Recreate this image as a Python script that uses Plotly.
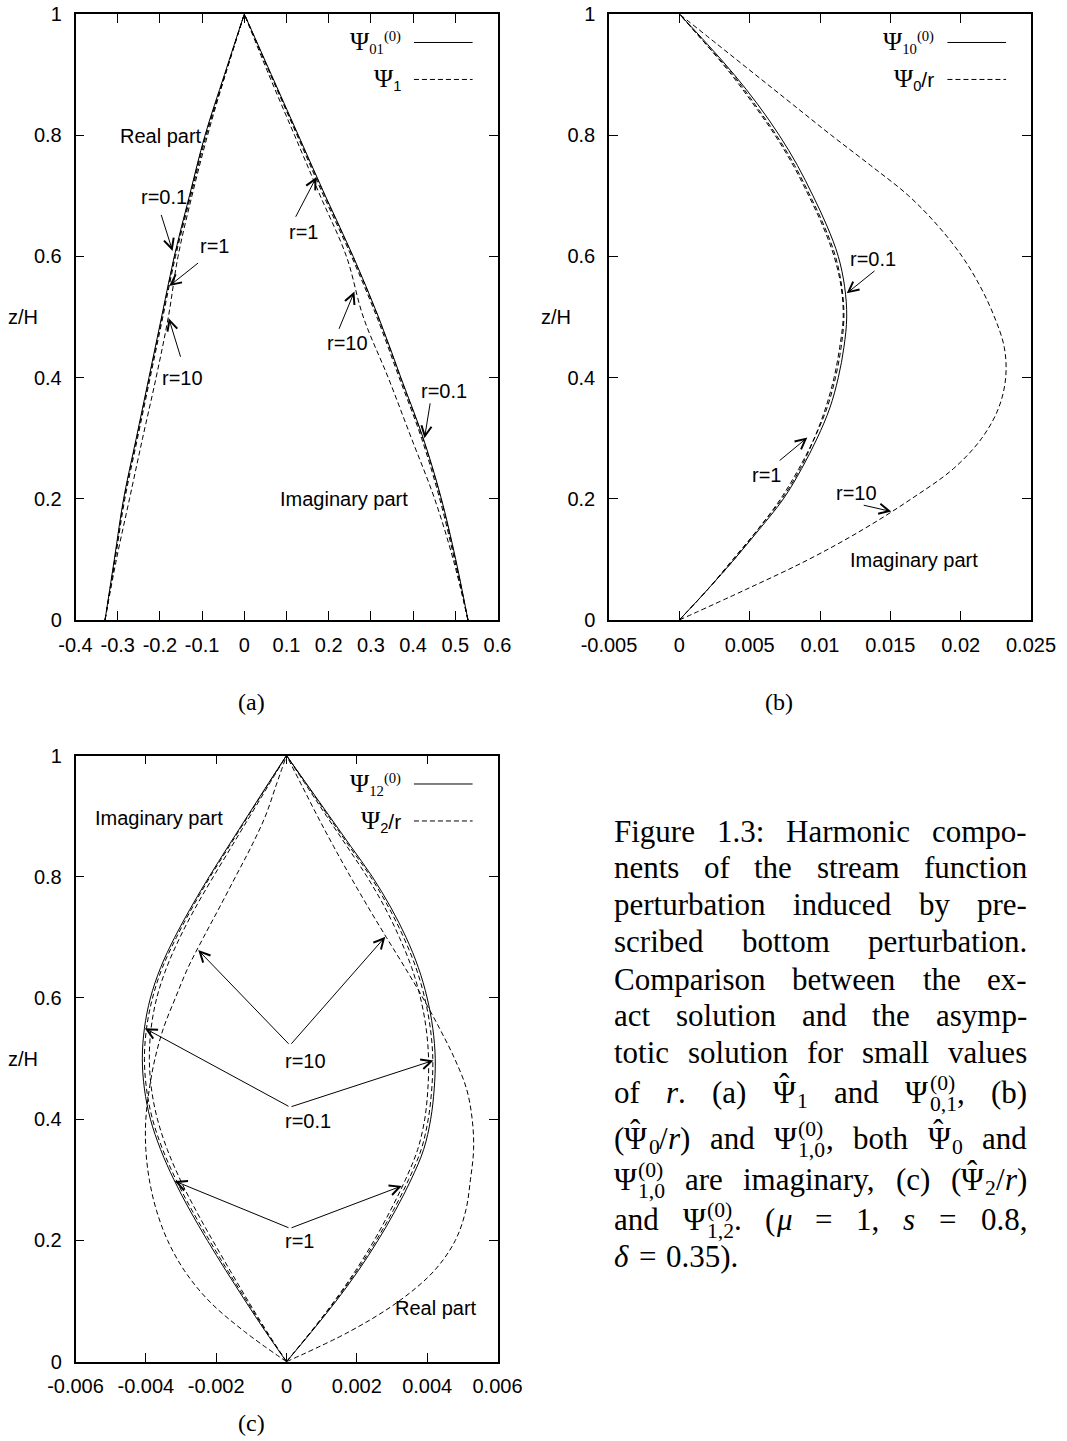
import plotly.graph_objects as go

FIG_W, FIG_H = 1067, 1441

# ---------------- panel (a): Psi_1 (dashed) and Psi_01^(0) (solid) ----------------
z_a = [0.0, 0.1, 0.2, 0.3, 0.4, 0.5, 0.6, 0.7, 0.8, 0.9, 1.0]
a_re_asym = [-0.330, -0.308, -0.286, -0.256, -0.226, -0.196, -0.166, -0.130, -0.093, -0.047, 0.0]
a_re_r01 = [-0.330, -0.307, -0.285, -0.255, -0.225, -0.195, -0.165, -0.129, -0.092, -0.046, 0.0]
a_re_r1 = [-0.330, -0.306, -0.283, -0.253, -0.223, -0.193, -0.163, -0.127, -0.090, -0.045, 0.0]
a_re_r10 = [-0.330, -0.303, -0.272, -0.241, -0.209, -0.180, -0.157, -0.124, -0.087, -0.045, 0.0]
a_im_asym = [0.530, 0.501, 0.467, 0.424, 0.371, 0.318, 0.258, 0.192, 0.128, 0.064, 0.0]
a_im_r01 = [0.530, 0.500, 0.466, 0.423, 0.370, 0.317, 0.257, 0.191, 0.127, 0.063, 0.0]
a_im_r1 = [0.530, 0.498, 0.463, 0.420, 0.367, 0.314, 0.254, 0.188, 0.125, 0.062, 0.0]
a_im_r10 = [0.530, 0.495, 0.451, 0.396, 0.341, 0.282, 0.242, 0.180, 0.119, 0.058, 0.0]

# ---------------- panel (b): Psi_0/r (dashed) and Psi_10^(0) (solid), imaginary ----------------
z_b = [0.0, 0.05, 0.1, 0.15, 0.2, 0.25, 0.3, 0.35, 0.4, 0.45, 0.5,
       0.55, 0.6, 0.65, 0.7, 0.75, 0.8, 0.85, 0.9, 0.95, 1.0]
b_asym = [0.0, 0.0020, 0.0039, 0.0057, 0.0074, 0.0087, 0.0098, 0.0107, 0.0113, 0.0117, 0.0119,
          0.01175, 0.0113, 0.0105, 0.0095, 0.0084, 0.0071, 0.0056, 0.0039, 0.0020, 0.0]
b_r01 = [0.0, 0.0020, 0.0038, 0.0056, 0.0072, 0.0085, 0.0096, 0.0105, 0.0111, 0.0115, 0.0117,
         0.01155, 0.0111, 0.0103, 0.0093, 0.0082, 0.0069, 0.0054, 0.0038, 0.0019, 0.0]
b_r1 = [0.0, 0.0020, 0.0039, 0.0056, 0.0073, 0.0086, 0.0096, 0.0104, 0.0110, 0.0114, 0.01165,
        0.0115, 0.0110, 0.0102, 0.0092, 0.0081, 0.0068, 0.0053, 0.0037, 0.0019, 0.0]
b_r10 = [0.0, 0.0047, 0.0092, 0.0131, 0.0165, 0.0195, 0.0215, 0.0227, 0.0232, 0.0231, 0.0224,
         0.0214, 0.0201, 0.0184, 0.0163, 0.0136, 0.0108, 0.0081, 0.0054, 0.0027, 0.0]

# ---------------- panel (c): Psi_2/r (dashed) and Psi_12^(0) (solid) ----------------
z_c = [0.0, 0.05, 0.1, 0.15, 0.2, 0.25, 0.3, 0.35, 0.4, 0.45, 0.5,
       0.55, 0.6, 0.65, 0.7, 0.75, 0.8, 0.85, 0.9, 0.95, 1.0]
c_im_asym = [0.0, -0.00060, -0.00117, -0.00172, -0.00225, -0.00275, -0.00320, -0.00358, -0.00387, -0.00404, -0.00410,
             -0.00404, -0.00387, -0.00358, -0.00318, -0.00271, -0.00220, -0.00166, -0.00111, -0.00056, 0.0]
c_im_r01 = [0.0, -0.00058, -0.00113, -0.00167, -0.00219, -0.00269, -0.00314, -0.00352, -0.00381, -0.00398, -0.00404,
            -0.00398, -0.00381, -0.00353, -0.00313, -0.00267, -0.00217, -0.00163, -0.00109, -0.00055, 0.0]
c_im_r1 = [0.0, -0.00056, -0.00109, -0.00160, -0.00210, -0.00258, -0.00302, -0.00339, -0.00367, -0.00384, -0.00390,
           -0.00385, -0.00369, -0.00341, -0.00303, -0.00258, -0.00208, -0.00156, -0.00104, -0.00052, 0.0]
c_im_r10 = [0.0, -0.00120, -0.00220, -0.00290, -0.00338, -0.00370, -0.00390, -0.00400, -0.00400, -0.00390, -0.00374,
            -0.00350, -0.00316, -0.00280, -0.00236, -0.00190, -0.00145, -0.00100, -0.00060, -0.00030, 0.0]
c_re_asym = [0.0, 0.00072, 0.00141, 0.00204, 0.00260, 0.00310, 0.00354, 0.00390, 0.00410, 0.00420, 0.00423,
             0.00416, 0.00400, 0.00375, 0.00340, 0.00296, 0.00244, 0.00183, 0.00122, 0.00061, 0.0]
c_re_r01 = [0.0, 0.00071, 0.00138, 0.00200, 0.00255, 0.00304, 0.00347, 0.00383, 0.00403, 0.00413, 0.00416,
            0.00409, 0.00393, 0.00368, 0.00333, 0.00290, 0.00239, 0.00179, 0.00119, 0.00060, 0.0]
c_re_r1 = [0.0, 0.00070, 0.00136, 0.00196, 0.00249, 0.00296, 0.00338, 0.00373, 0.00393, 0.00402, 0.00404,
           0.00397, 0.00381, 0.00356, 0.00321, 0.00279, 0.00229, 0.00172, 0.00114, 0.00057, 0.0]
c_re_r10 = [0.0, 0.00180, 0.00320, 0.00420, 0.00480, 0.00510, 0.00523, 0.00532, 0.00528, 0.00512, 0.00478,
            0.00435, 0.00388, 0.00337, 0.00284, 0.00232, 0.00182, 0.00134, 0.00088, 0.00044, 0.0]

# ---------------- ticks ----------------
a_xticks = [-0.4, -0.3, -0.2, -0.1, 0.0, 0.1, 0.2, 0.3, 0.4, 0.5, 0.6]
a_xlabels = ["-0.4", "-0.3", "-0.2", "-0.1", "0", "0.1", "0.2", "0.3", "0.4", "0.5", "0.6"]
b_xticks = [-0.005, 0.0, 0.005, 0.01, 0.015, 0.02, 0.025]
b_xlabels = ["-0.005", "0", "0.005", "0.01", "0.015", "0.02", "0.025"]
c_xticks = [-0.006, -0.004, -0.002, 0.0, 0.002, 0.004, 0.006]
c_xlabels = ["-0.006", "-0.004", "-0.002", "0", "0.002", "0.004", "0.006"]
z_ticks = [0.0, 0.2, 0.4, 0.6, 0.8, 1.0]
z_labels = ["0", "0.2", "0.4", "0.6", "0.8", "1"]

# ---------------- geometry (pixels) ----------------
PANELS = {
    "": (75.5, 497.5, 14.0, 620.0),
    "2": (609.0, 1031.0, 14.0, 620.0),
    "3": (75.5, 497.5, 755.5, 1361.7),
}

SANS = "Liberation Sans"
SERIF = "Liberation Serif"
DASH = "5px,3px"

fig = go.Figure()


def curve(x, z, axis, dashed):
    fig.add_trace(go.Scatter(
        x=x, y=z, mode="lines",
        line=dict(color="black", width=1, dash=DASH if dashed else "solid",
                  shape="spline", smoothing=1.0),
        xaxis="x" + axis, yaxis="y" + axis,
        showlegend=False, hoverinfo="skip"))


for xs in (a_re_asym, a_im_asym):
    curve(xs, z_a, "", False)
for xs in (a_re_r01, a_re_r1, a_re_r10, a_im_r01, a_im_r1, a_im_r10):
    curve(xs, z_a, "", True)

curve(b_asym, z_b, "2", False)
for xs in (b_r01, b_r1, b_r10):
    curve(xs, z_b, "2", True)

for xs in (c_im_asym, c_re_asym):
    curve(xs, z_c, "3", False)
for xs in (c_im_r01, c_im_r1, c_im_r10, c_re_r01, c_re_r1, c_re_r10):
    curve(xs, z_c, "3", True)


def axis_pair(suffix, xrange_, xticks, xlabels):
    l, r, t, b = PANELS[suffix]
    common = dict(ticks="inside", ticklen=9, tickwidth=1.3, tickcolor="black",
                  showline=True, linecolor="black", linewidth=1.5, mirror="ticks",
                  showgrid=False, zeroline=False, automargin=False,
                  tickfont=dict(family=SANS, size=20, color="black"))
    xa = dict(common, domain=[l / FIG_W, r / FIG_W], range=xrange_,
              tickmode="array", tickvals=xticks, ticktext=xlabels,
              anchor="y" + suffix, ticklabelstandoff=6)
    ya = dict(common, domain=[1 - b / FIG_H, 1 - t / FIG_H], range=[0, 1],
              tickmode="array", tickvals=z_ticks, ticktext=z_labels,
              anchor="x" + suffix, ticklabelstandoff=8)
    return xa, ya


xa1, ya1 = axis_pair("", [-0.4, 0.6], a_xticks, a_xlabels)
xa2, ya2 = axis_pair("2", [-0.005, 0.025], b_xticks, b_xlabels)
xa3, ya3 = axis_pair("3", [-0.006, 0.006], c_xticks, c_xlabels)

annotations = []
shapes = []


def label(axis, x, z, text, size=20):
    annotations.append(dict(x=x, y=z, xref="x" + axis, yref="y" + axis, text=text,
                            showarrow=False, xanchor="left", yanchor="middle",
                            font=dict(family=SANS, size=size, color="black")))


def arrow(axis, tail, head):
    annotations.append(dict(x=head[0], y=head[1], ax=tail[0], ay=tail[1],
                            xref="x" + axis, yref="y" + axis,
                            axref="x" + axis, ayref="y" + axis,
                            text="", showarrow=True, arrowhead=5, arrowsize=2.0,
                            arrowwidth=1, arrowcolor="black", standoff=0, startstandoff=0))


PSI = '<span style="font-family:Liberation Serif;font-size:26px">Ψ</span>'
SERIF_SPAN = '<span style="font-family:Liberation Serif">%s</span>'


def legend(axis, solid_text, dashed_text):
    xr, yr = "x%s domain" % axis, "y%s domain" % axis
    for yy, txt, dash in ((0.953, solid_text, "solid"), (0.892, dashed_text, DASH)):
        annotations.append(dict(x=0.775, y=yy, xref=xr, yref=yr, text=txt,
                                showarrow=False, xanchor="right", yanchor="middle",
                                font=dict(family=SANS, size=21, color="black")))
        shapes.append(dict(type="line", xref=xr, yref=yr, x0=0.802, x1=0.941,
                           y0=yy, y1=yy, line=dict(color="black", width=1, dash=dash)))


# panel (a)
legend("", PSI + SERIF_SPAN % "<sub>01</sub><sup>(0)</sup>", PSI + "<sub>1</sub>")
label("", -0.300, 0.799, "Real part")
label("", 0.080, 0.200, "Imaginary part")
label("", -0.250, 0.698, "r=0.1")
label("", -0.110, 0.617, "r=1")
label("", -0.200, 0.399, "r=10")
label("", 0.101, 0.640, "r=1")
label("", 0.191, 0.457, "r=10")
label("", 0.413, 0.378, "r=0.1")
arrow("", (-0.198, 0.671), (-0.170, 0.609))
arrow("", (-0.106, 0.591), (-0.178, 0.551))
arrow("", (-0.150, 0.432), (-0.179, 0.498))
arrow("", (0.120, 0.663), (0.171, 0.731))
arrow("", (0.223, 0.478), (0.261, 0.542))
arrow("", (0.441, 0.360), (0.427, 0.300))

# panel (b)
legend("2", PSI + SERIF_SPAN % "<sub>10</sub><sup>(0)</sup>", PSI + "<sub>0</sub>/r")
label("2", 0.01202, 0.595, "r=0.1")
label("2", 0.00502, 0.239, "r=1")
label("2", 0.0110, 0.209, "r=10")
label("2", 0.01202, 0.099, "Imaginary part")
arrow("2", (0.01398, 0.578), (0.0119, 0.539))
arrow("2", (0.00702, 0.261), (0.0091, 0.301))
arrow("2", (0.0130, 0.190), (0.01507, 0.179))

# panel (c)
legend("3", PSI + SERIF_SPAN % "<sub>12</sub><sup>(0)</sup>", PSI + "<sub>2</sub>/r")
label("3", -0.00551, 0.897, "Imaginary part")
label("3", 0.00303, 0.0894, "Real part")
label("3", -0.0001, 0.496, "r=10")
label("3", -0.0001, 0.397, "r=0.1")
label("3", -0.0001, 0.199, "r=1")
for vertex, left_tip, right_tip in (((0.0001, 0.522), (-0.00251, 0.679), (0.00281, 0.701)),
                                    ((0.0001, 0.420), (-0.00403, 0.550), (0.00418, 0.497)),
                                    ((0.0001, 0.220), (-0.00318, 0.298), (0.00328, 0.290))):
    arrow("3", vertex, left_tip)
    arrow("3", vertex, right_tip)

# axis titles z/H
for axis in ("", "2", "3"):
    annotations.append(dict(x=-0.125, y=0.5, xref="x%s domain" % axis, yref="y%s domain" % axis,
                            text="z/H", showarrow=False, xanchor="center", yanchor="middle",
                            font=dict(family=SANS, size=20, color="black")))


def px_text(x, y, text, size, family=SERIF, xanchor="center"):
    annotations.append(dict(x=x / FIG_W, y=1 - y / FIG_H, xref="paper", yref="paper",
                            text=text, showarrow=False, xanchor=xanchor, yanchor="middle",
                            font=dict(family=family, size=size, color="black")))


px_text(251, 702, "(a)", 24)
px_text(779, 702, "(b)", 24)
px_text(251, 1423, "(c)", 24)

# ---------------- caption (justified, word by word) ----------------
ROMAN = {" ": 0.25, "(": 0.333, ")": 0.333, ",": 0.25, "-": 0.333, ".": 0.25, "/": 0.278,
         ":": 0.278, "=": 0.564, "C": 0.667, "F": 0.556, "H": 0.722, "Ψ": 0.78,
         "a": 0.444, "b": 0.5, "c": 0.444, "d": 0.5, "e": 0.444, "f": 0.333, "g": 0.5,
         "h": 0.5, "i": 0.278, "l": 0.278, "m": 0.778, "n": 0.5, "o": 0.5, "p": 0.5,
         "r": 0.333, "s": 0.389, "t": 0.278, "u": 0.5, "v": 0.5, "w": 0.722, "x": 0.5,
         "y": 0.5, "z": 0.444}
ITALIC = {"r": 0.389, "s": 0.389, "μ": 0.5, "δ": 0.5}
for d in "0123456789":
    ROMAN[d] = 0.5

# piece styles: r roman, i italic, h hatted capital, b subscript, p superscript stacked on the next subscript
cap_lines = [
    ["Figure", "1.3:", "Harmonic", "compo-"],
    ["nents", "of", "the", "stream", "function"],
    ["perturbation", "induced", "by", "pre-"],
    ["scribed", "bottom", "perturbation."],
    ["Comparison", "between", "the", "ex-"],
    ["act", "solution", "and", "the", "asymp-"],
    ["totic", "solution", "for", "small", "values"],
    ["of", [("r", "i"), (".", "r")], "(a)", [("Ψ", "h"), ("1", "b")], "and",
     [("Ψ", "r"), ("(0)", "p"), ("0,1", "b"), (",", "r")], "(b)"],
    [[("(", "r"), ("Ψ", "h"), ("0", "b"), ("/", "r"), ("r", "i"), (")", "r")], "and",
     [("Ψ", "r"), ("(0)", "p"), ("1,0", "b"), (",", "r")], "both", [("Ψ", "h"), ("0", "b")], "and"],
    [[("Ψ", "r"), ("(0)", "p"), ("1,0", "b")], "are", "imaginary,", "(c)",
     [("(", "r"), ("Ψ", "h"), ("2", "b"), ("/", "r"), ("r", "i"), (")", "r")]],
    ["and", [("Ψ", "r"), ("(0)", "p"), ("1,2", "b"), (".", "r")], [("(", "r"), ("μ", "i")], "=", "1,",
     [("s", "i")], "=", "0.8,"],
    [[("δ", "i")], "=", "0.35)."],
]
cap_baselines = [842, 878, 915, 952.5, 990, 1026, 1063, 1103, 1149, 1190, 1230, 1267]
CAP_LEFT, CAP_RIGHT, CAP_SIZE = 612, 1025, 31


def pieces_of(token):
    return [(token, "r")] if isinstance(token, str) else token


def piece_width(text, style):
    table = ITALIC if style == "i" else ROMAN
    scale = 0.7 if style in ("b", "p") else 1.0
    return scale * sum(table.get(ch, 0.5) for ch in text) * CAP_SIZE


def token_width(token):
    w, pending = 0.0, None
    for text, style in pieces_of(token):
        pw = piece_width(text, style)
        if style == "p":
            pending = pw
            continue
        if style == "b" and pending is not None:
            pw = max(pw, pending)
            pending = None
        w += pw
    return w


def draw_token(token, x0, base):
    x, pending = x0, None
    for text, style in pieces_of(token):
        pw = piece_width(text, style)
        size = CAP_SIZE
        shift = 0.0
        html = text
        if style == "i":
            html = "<i>%s</i>" % text
        if style == "p":
            size, shift = 0.7 * CAP_SIZE, -0.40 * CAP_SIZE
        elif style == "b":
            size = 0.7 * CAP_SIZE
            shift = (0.28 if pending is not None else 0.17) * CAP_SIZE
        center = base + shift - 0.34 * size
        px_text(x, center, html, size, xanchor="left")
        if style == "h":
            # circumflex accent raised above the capital letter
            px_text(x + 0.5 * pw + 1, base - 0.60 * CAP_SIZE, "\u02c6", CAP_SIZE)
        if style == "p":
            pending = pw
            continue
        if style == "b" and pending is not None:
            pw = max(pw, pending)
            pending = None
        x += pw


for i, (line, base) in enumerate(zip(cap_lines, cap_baselines)):
    widths = [token_width(t) for t in line]
    if i < len(cap_lines) - 1:
        gap = (CAP_RIGHT - CAP_LEFT - sum(widths)) / (len(line) - 1)
    else:
        gap = 0.3 * CAP_SIZE
    x = CAP_LEFT
    for tok, w in zip(line, widths):
        draw_token(tok, x, base)
        x += w + gap

fig.update_layout(
    width=FIG_W, height=FIG_H,
    margin=dict(l=0, r=0, t=0, b=0, pad=0, autoexpand=False),
    paper_bgcolor="white", plot_bgcolor="white",
    xaxis=xa1, yaxis=ya1, xaxis2=xa2, yaxis2=ya2, xaxis3=xa3, yaxis3=ya3,
    annotations=annotations, shapes=shapes, showlegend=False,
)

fig.write_html("out.html")
